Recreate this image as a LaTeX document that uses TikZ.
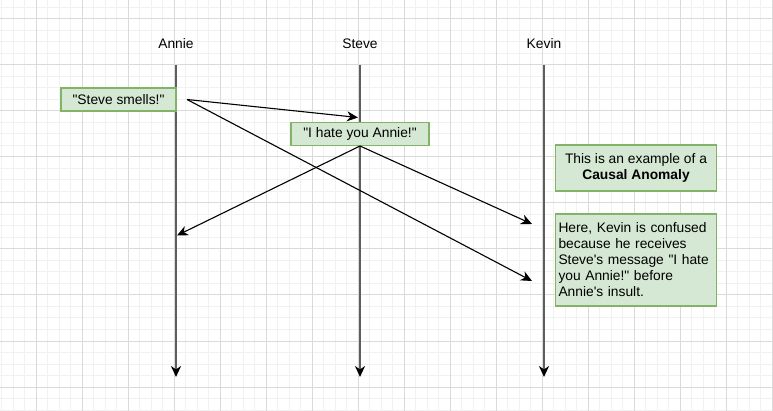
\documentclass[tikz,border=0pt]{standalone}
\usepackage{fontspec}
\setmainfont{Liberation Sans}
\usetikzlibrary{arrows.meta}
\definecolor{boxfill}{HTML}{D5E8D4}
\definecolor{boxline}{HTML}{82B366}
\definecolor{lifecol}{HTML}{5E5E5E}
\definecolor{gridmaj}{HTML}{DADADA}
\definecolor{gridmin}{HTML}{F1F1F1}
\newcommand{\dq}{\textquotedbl}
\newcommand{\sq}{\textquotesingle}
\tikzset{
  lbl/.style={font=\fontsize{13.8}{16}\selectfont, inner sep=0pt},
  msgbox/.style={draw=boxline, fill=boxfill, line width=1.15pt, inner sep=3pt,
    font=\fontsize{13.8}{16}\selectfont},
  lifeline/.style={draw=lifecol, line width=2.2pt,
    -{Stealth[length=11pt,width=10pt,inset=3.5pt,color=black]}},
  msg/.style={draw=black, line width=1.1pt,
    -{Stealth[length=11pt,width=10pt,inset=3.5pt]}},
  gmin/.style={draw=gridmin, line width=1pt},
  gmaj/.style={draw=gridmaj, line width=1pt},
}
\begin{document}
\begin{tikzpicture}[x=1pt,y=-1pt]
\useasboundingbox (0,0) rectangle (773,411);
\fill[white] (0,0) rectangle (773,411);
% grid
\foreach \i in {0,...,67} {\draw[gmin] ({1.5+11.5*\i},0) -- ({1.5+11.5*\i},411);}
\foreach \i in {0,...,36} {\draw[gmin] (0,{7.5+11.5*\i}) -- (773,{7.5+11.5*\i});}
\foreach \i in {0,...,16} {\draw[gmaj] ({36+46*\i},0) -- ({36+46*\i},411);}
\foreach \i in {0,...,8} {\draw[gmaj] (0,{19+46*\i}) -- (773,{19+46*\i});}

% lifeline labels
\node[lbl] (annie) at (176,44) {Annie};
\node[lbl] (steve) at (360,44) {Steve};
\node[lbl] (kevin) at (544,44) {Kevin};

% lifelines
\coordinate (aTop) at (176,65);
\coordinate (aBot) at (176,377);
\coordinate (sTop) at (360,65);
\coordinate (sBot) at (360,377);
\coordinate (kTop) at (544,65);
\coordinate (kBot) at (544,377);
\draw[lifeline] (aTop) -- (aBot);
\draw[lifeline] (sTop) -- (sBot);
\draw[lifeline] (kTop) -- (kBot);

% message boxes
\node[msgbox, minimum width=115pt, minimum height=23pt] (m1) at (118.5,99.5) {\dq Steve smells!\dq};
\node[msgbox, minimum width=138pt, minimum height=23.5pt] (m2) at (360,134) {\dq I hate you Annie!\dq};

% message arrows
\coordinate (s1) at (187,99.5);
\coordinate (r1) at (358,117.5);
\coordinate (r2) at (532,281);
\coordinate (s2) at (360,146);
\coordinate (r3) at (177,235.5);
\coordinate (r4) at (532,224);
\draw[msg] (s1) -- (r1);
\draw[msg] (s1) -- (r2);
\draw[msg] (s2) -- (r3);
\draw[msg] (s2) -- (r4);

% notes
\node[msgbox, minimum width=161pt, minimum height=46pt, align=center] (n1) at (636,168)
  {This is an example of a\\\textbf{Causal Anomaly}};
\node[msgbox, minimum width=161pt, minimum height=92pt, text width=155pt, align=left] (n2) at (636,260)
  {Here, Kevin is confused\\because he receives\\Steve\sq s message \dq I hate\\you Annie!\dq\ before\\Annie\sq s insult.};
\end{tikzpicture}
\end{document}
